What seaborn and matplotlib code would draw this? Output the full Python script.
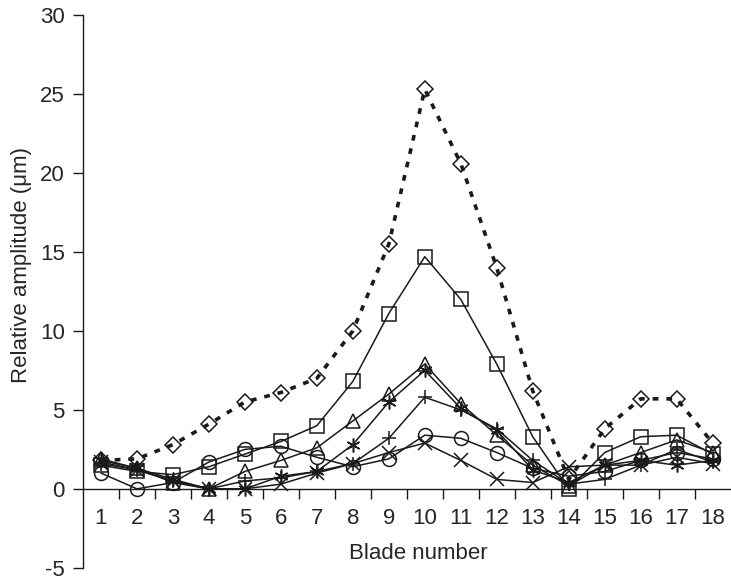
import numpy as np
import pandas as pd
import matplotlib
matplotlib.use("Agg")
import matplotlib.pyplot as plt
import seaborn as sns

blades = list(range(1, 19))

diamond = [1.8, 1.9, 2.8, 4.1, 5.5, 6.1, 7.0, 10.0, 15.5, 25.3, 20.6, 14.0, 6.2, 0.6, 3.8, 5.7, 5.7, 2.9]
square = [1.5, 1.1, 0.9, 1.4, 2.2, 3.0, 4.0, 6.8, 11.1, 14.7, 12.0, 7.9, 3.3, 0.0, 2.3, 3.3, 3.4, 2.2]
triangle = [1.9, 1.3, 0.4, 0.0, 1.1, 1.8, 2.6, 4.3, 6.0, 7.9, 5.4, 3.4, 1.5, 0.2, 1.5, 2.3, 3.1, 2.3]
star = [1.8, 1.3, 0.6, 0.0, 0.0, 0.8, 1.1, 2.8, 5.5, 7.5, 5.1, 3.7, 1.2, 0.4, 1.5, 1.8, 1.5, 1.8]
circle = [1.0, 0.0, 0.4, 1.7, 2.5, 2.7, 2.0, 1.4, 1.9, 3.4, 3.2, 2.3, 1.3, 0.8, 1.1, 1.8, 2.3, 1.9]
cross = [1.7, 1.2, 0.5, 0.0, 0.0, 0.3, 1.0, 1.6, 2.3, 2.9, 1.8, 0.6, 0.4, 1.4, 1.5, 1.5, 2.0, 1.6]
plus = [1.6, 1.2, 0.5, 0.0, 0.5, 0.7, 1.1, 1.6, 3.2, 5.8, 5.0, 3.8, 1.8, 0.3, 0.6, 1.5, 2.5, 1.7]

series = [
    ("plus", plus, "+"),
    ("cross", cross, "x"),
    ("circle", circle, "o"),
    ("star", star, (6, 2, 0)),
    ("triangle", triangle, "^"),
    ("square", square, "s"),
]

sns.set_style("white")
plt.rcParams['font.family'] = ['Liberation Sans', 'DejaVu Sans']
plt.rcParams['axes.unicode_minus'] = False

fig = plt.figure(figsize=(7.31, 5.80), dpi=100)
ax = fig.add_axes([0.1135, 0.021, 0.886, 0.953])

INK = "#1a1a1a"
for name, vals, mk in series:
    df = pd.DataFrame({'blade': blades, 'amp': vals})
    sns.lineplot(data=df, x='blade', y='amp', ax=ax, color=INK, linewidth=1.1,
                 marker=mk, markersize=10, markerfacecolor='none',
                 markeredgecolor=INK, markeredgewidth=1.1)

df = pd.DataFrame({'blade': blades, 'amp': diamond})
sns.lineplot(data=df, x='blade', y='amp', ax=ax, color=INK, linewidth=2.6,
             dashes=False, marker='D', markersize=8, markerfacecolor='none',
             markeredgecolor=INK, markeredgewidth=1.1)
ax.lines[-1].set_dashes([1.6, 2.2])

ax.set_xlim(0.5, 18.5)
ax.set_ylim(-5, 30)
ax.set_yticks(range(-5, 31, 5))
ax.set_xticks(blades)
ax.set_xticks(np.arange(1.5, 18.5, 1), minor=True)

for s in ['top', 'right']:
    ax.spines[s].set_visible(False)
ax.spines['bottom'].set_position(('data', 0))
ax.spines['left'].set_color(INK)
ax.spines['bottom'].set_color(INK)
ax.spines['left'].set_linewidth(1.0)
ax.spines['bottom'].set_linewidth(1.0)

ax.tick_params(axis='y', which='major', direction='out', length=7, width=1,
               color=INK, labelsize=16, pad=6, left=True)
ax.tick_params(axis='x', which='major', length=0, labelsize=16, pad=14)
ax.tick_params(axis='x', which='minor', direction='out', length=7, width=1,
               color=INK, bottom=True)

ax.set_xlabel('Blade number', fontsize=16)
ax.xaxis.set_label_coords(0.518, 0.045)
ax.set_ylabel('Relative amplitude (μm)', fontsize=16)
ax.yaxis.set_label_coords(-0.078, 0.548)

plt.savefig('out.png', dpi=100)
